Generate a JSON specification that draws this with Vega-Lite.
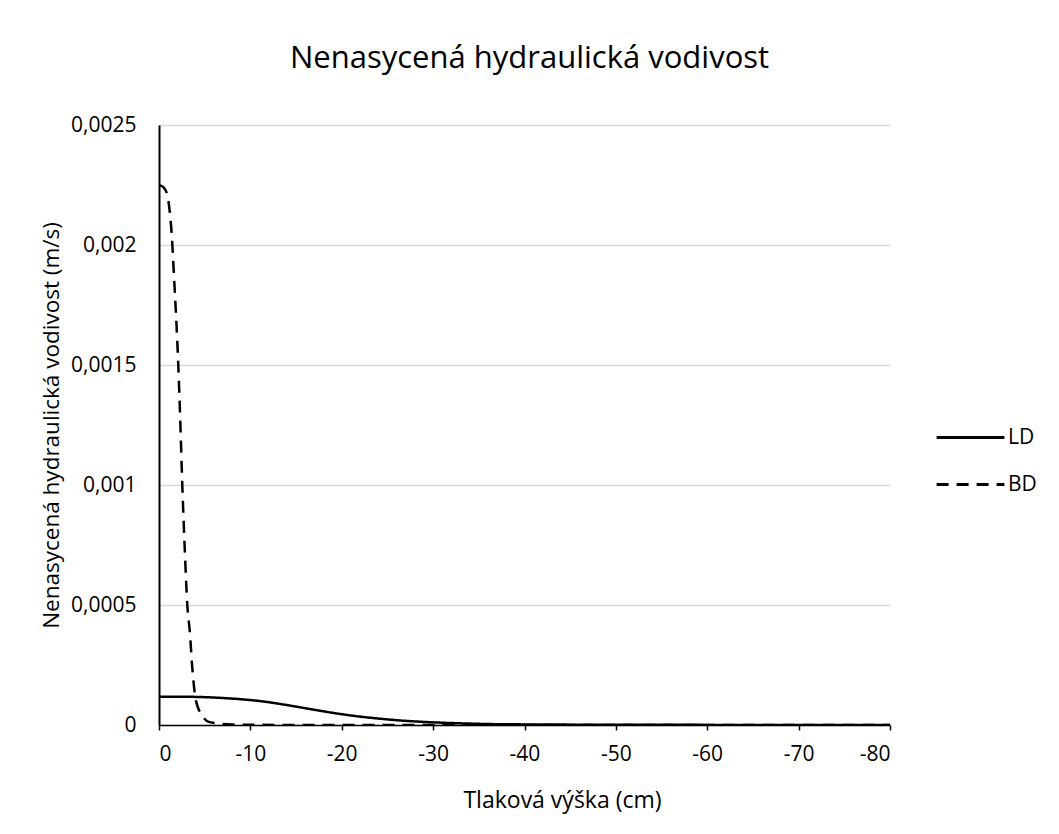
{
  "$schema": "https://vega.github.io/schema/vega-lite/v6.json",
  "width": 731,
  "height": 600,
  "autosize": {"type": "none"},
  "padding": {"left": 159, "top": 125, "right": 169, "bottom": 109},
  "background": "white",
  "title": {
    "text": "Nenasycená hydraulická vodivost",
    "font": "Open Sans",
    "fontSize": 31,
    "fontWeight": "normal",
    "color": "#000000",
    "anchor": "middle",
    "dx": 5,
    "offset": 39
  },
  "data": {
    "values": [
      {"h": 0, "K": 0.000118, "s": "LD"},
      {"h": -2, "K": 0.000118, "s": "LD"},
      {"h": -5, "K": 0.000116, "s": "LD"},
      {"h": -8, "K": 0.00011, "s": "LD"},
      {"h": -10, "K": 0.000104, "s": "LD"},
      {"h": -12, "K": 0.000095, "s": "LD"},
      {"h": -14, "K": 0.000083, "s": "LD"},
      {"h": -16, "K": 0.00007, "s": "LD"},
      {"h": -18, "K": 0.000057, "s": "LD"},
      {"h": -20, "K": 0.000045, "s": "LD"},
      {"h": -22, "K": 0.000035, "s": "LD"},
      {"h": -24, "K": 0.000027, "s": "LD"},
      {"h": -26, "K": 0.00002, "s": "LD"},
      {"h": -28, "K": 0.000015, "s": "LD"},
      {"h": -30, "K": 0.000011, "s": "LD"},
      {"h": -33, "K": 0.000007, "s": "LD"},
      {"h": -36, "K": 0.000004, "s": "LD"},
      {"h": -40, "K": 0.0000025, "s": "LD"},
      {"h": -50, "K": 0.000001, "s": "LD"},
      {"h": -60, "K": 0.0000005, "s": "LD"},
      {"h": -70, "K": 0.0000003, "s": "LD"},
      {"h": -80, "K": 0.0000002, "s": "LD"},
      {"h": 0, "K": 0.00225, "s": "BD"},
      {"h": -0.5, "K": 0.00224, "s": "BD"},
      {"h": -0.9, "K": 0.00221, "s": "BD"},
      {"h": -1.2, "K": 0.00213, "s": "BD"},
      {"h": -1.4, "K": 0.00204, "s": "BD"},
      {"h": -1.64, "K": 0.00187, "s": "BD"},
      {"h": -1.9, "K": 0.00168, "s": "BD"},
      {"h": -2.11, "K": 0.0015, "s": "BD"},
      {"h": -2.35, "K": 0.00124, "s": "BD"},
      {"h": -2.55, "K": 0.001, "s": "BD"},
      {"h": -2.8, "K": 0.00075, "s": "BD"},
      {"h": -3.1, "K": 0.0005, "s": "BD"},
      {"h": -3.39, "K": 0.00038, "s": "BD"},
      {"h": -3.6, "K": 0.00026, "s": "BD"},
      {"h": -3.75, "K": 0.00019, "s": "BD"},
      {"h": -3.94, "K": 0.000125, "s": "BD"},
      {"h": -4.12, "K": 0.00009, "s": "BD"},
      {"h": -4.4, "K": 0.00006, "s": "BD"},
      {"h": -4.67, "K": 0.000042, "s": "BD"},
      {"h": -5.0, "K": 0.000025, "s": "BD"},
      {"h": -5.36, "K": 0.000014, "s": "BD"},
      {"h": -6.3, "K": 0.000007, "s": "BD"},
      {"h": -8, "K": 0.000002, "s": "BD"},
      {"h": -10, "K": 0.0000008, "s": "BD"},
      {"h": -15, "K": 0.0000002, "s": "BD"},
      {"h": -20, "K": 0.0000001, "s": "BD"},
      {"h": -40, "K": 0.0, "s": "BD"},
      {"h": -60, "K": 0.0, "s": "BD"},
      {"h": -80, "K": 0.0, "s": "BD"}
    ]
  },
  "mark": {"type": "line", "color": "#000000", "strokeWidth": 2.5, "interpolate": "monotone", "clip": true},
  "encoding": {
    "x": {
      "field": "h",
      "type": "quantitative",
      "scale": {"domain": [-80, 0], "reverse": true, "nice": false},
      "axis": {
        "title": "Tlaková výška (cm)",
        "values": [0, -10, -20, -30, -40, -50, -60, -70, -80],
        "labelExpr": "replace(format(datum.value, '~f'), '−', '-')",
        "grid": false,
        "domainColor": "#000000",
        "domainWidth": 1.5,
        "tickColor": "#000000",
        "tickWidth": 1.5,
        "tickSize": 5,
        "labelPadding": 13,
        "titlePadding": 25,
        "titleX": 403,
        "titleFontSize": 23
      }
    },
    "y": {
      "field": "K",
      "type": "quantitative",
      "scale": {"domain": [0, 0.0025], "nice": false},
      "axis": {
        "title": "Nenasycená hydraulická vodivost (m/s)",
        "values": [0, 0.0005, 0.001, 0.0015, 0.002, 0.0025],
        "labelExpr": "replace(format(datum.value, '~f'), '.', ',')",
        "grid": true,
        "gridColor": "#d9d9d9",
        "gridWidth": 1.5,
        "domainColor": "#000000",
        "domainWidth": 2,
        "ticks": false,
        "labelPadding": 23,
        "titlePadding": 7,
        "titleFontSize": 22.5
      }
    },
    "strokeDash": {
      "field": "s",
      "type": "nominal",
      "scale": {"domain": ["LD", "BD"], "range": [[1, 0], [12, 8]]},
      "legend": {
        "title": null,
        "orient": "none",
        "legendX": 776,
        "legendY": 277,
        "symbolType": "stroke",
        "symbolSize": 4600,
        "symbolStrokeWidth": 3,
        "symbolStrokeColor": "#000000",
        "labelFontSize": 21,
        "labelFont": "Open Sans",
        "labelColor": "#000000",
        "labelOffset": 2,
        "rowPadding": 1,
        "padding": 0
      }
    }
  },
  "config": {
    "view": {"stroke": null},
    "axis": {
      "labelFont": "Open Sans",
      "labelFontSize": 21,
      "labelColor": "#000000",
      "titleFont": "Open Sans",
      "titleFontWeight": "normal",
      "titleColor": "#000000"
    }
  }
}
